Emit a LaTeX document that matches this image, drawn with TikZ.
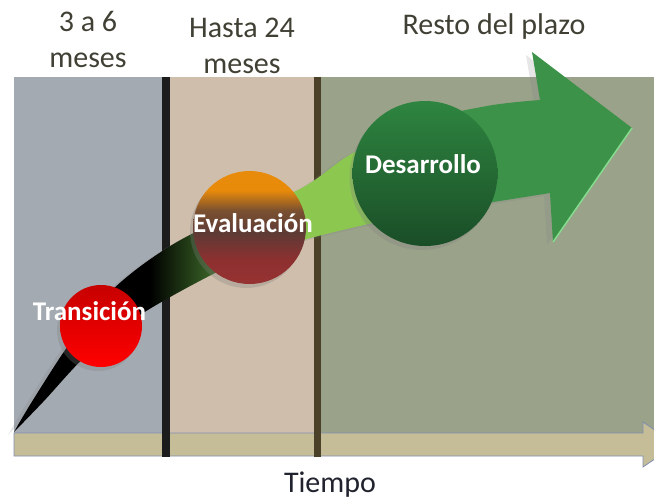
\documentclass[tikz,border=0pt]{standalone}
\usepackage{fontspec}
\setmainfont{Carlito}
\usetikzlibrary{shadows}
\definecolor{panelA}{HTML}{A3AAB2}
\definecolor{panelB}{HTML}{D0BEAC}
\definecolor{panelC}{HTML}{9AA28A}
\definecolor{barfill}{HTML}{C5BD98}
\definecolor{barline}{HTML}{7F8EB0}
\definecolor{divA}{HTML}{1C1C1C}
\definecolor{divB}{HTML}{4B4128}
\definecolor{headtext}{HTML}{404035}
\definecolor{timetext}{HTML}{20222E}
\definecolor{bandDark}{HTML}{2D4F1E}
\definecolor{bandLight}{HTML}{8CC850}
\definecolor{arrowGreen}{HTML}{3B9248}
\definecolor{edgeGreen}{HTML}{86DB8E}
\definecolor{evTop}{HTML}{E88A0A}
\definecolor{evBrown}{HTML}{7A5030}
\definecolor{evDark}{HTML}{5E3A35}
\definecolor{evRed}{HTML}{8E3030}
\definecolor{evBot}{HTML}{963232}
\definecolor{deTop}{HTML}{2E8540}
\definecolor{deBot}{HTML}{1A4D27}
\pgfdeclarehorizontalshading{bandshade}{100bp}{color(0bp)=(black); color(36bp)=(black); color(40bp)=(bandDark); color(47bp)=(bandLight); color(53bp)=(bandLight); color(60bp)=(arrowGreen); color(100bp)=(arrowGreen)}
\pgfdeclareverticalshading{evalshade}{100bp}{color(0bp)=(evBot); color(25bp)=(evBot); color(35.5bp)=(evRed); color(47.5bp)=(evDark); color(57.5bp)=(evBrown); color(66.5bp)=(evTop); color(100bp)=(evTop)}

\begin{document}
\begin{tikzpicture}[x=1pt, y=-1pt,
    heading/.style={text=headtext, font=\fontsize{30}{36}\selectfont, align=center, inner sep=0pt},
    phase/.style={circle, minimum size=#1, inner sep=0pt, drop shadow={opacity=0.3, shadow xshift=-3pt, shadow yshift=-4pt}},
    phaselabel/.style={text=white, font=\fontsize{27}{32}\selectfont\bfseries, inner sep=0pt, anchor=base}]
    \clip (0,0) rectangle (654,499);
    \fill[panelA] (14,77) rectangle (166,433);
    \fill[panelB] (166,77) rectangle (318,433);
    \fill[panelC] (318,77) rectangle (654,433);
    \draw[barline, fill=barfill, line width=0.8pt] (14,433) -- (643,433) -- (643,422) -- (676,444.5)
      -- (643,467) -- (643,456) -- (14,456) -- cycle;
    \fill[divA] (162,77) rectangle (170,457);
    \fill[divB] (314,77) rectangle (321,457);

    \coordinate (start) at (14,432);
    \coordinate (topjoin) at (540,100);
    \coordinate (topbarb) at (532,52);
    \coordinate (tip) at (632,128);
    \coordinate (lowbarb) at (553,242);
    \coordinate (lowjoin) at (550,193);
    \shade[shading=bandshade, drop shadow={opacity=0.2, shadow xshift=-6pt, shadow yshift=-3pt}]
      plot[smooth, tension=0.6] coordinates {(start) (33,400) (70,343) (110,292) (167,248) (230,216)
        (300,189) (353,153) (420,122) (487,106) (topjoin)}
      -- (topbarb) -- (tip) -- (lowbarb) -- (lowjoin)
      -- plot[smooth, tension=0.6] coordinates {(lowjoin) (487,203) (430,212) (373,223) (303,240)
        (260,254) (217,272) (143,313) (90,352) (43,402) (start)} -- cycle;
    \draw[edgeGreen, line width=1.5pt] (tip) -- (lowbarb);

    \node[phase=82pt, top color=red!78!black, bottom color=red] (tr) at (101,326) {};
    \node[phase=113pt, shading=evalshade] (ev) at (249.5,227.5) {};
    \node[phase=145pt, top color=deTop, bottom color=deBot] (de) at (425,173.5) {};
    \node[phaselabel] (trl) at ([xshift=-11.5pt, yshift=6pt]tr.center) {Transición};
    \node[phaselabel] (evl) at ([xshift=3.5pt, yshift=-4.5pt]ev.center) {Evaluación};
    \node[phaselabel] (del) at ([xshift=-2pt, yshift=0.5pt]de.center) {Desarrollo};

    \node[heading, anchor=north] (first) at (88,11) {3 a 6\\meses};
    \node[heading, anchor=north] (second) at (242,17.7) {Hasta 24\\meses};
    \node[heading, anchor=base] (rest) at (494,34) {Resto del plazo};
    \node[heading, anchor=base, text=timetext] (time) at (330,492) {Tiempo};
\end{tikzpicture}
\end{document}
